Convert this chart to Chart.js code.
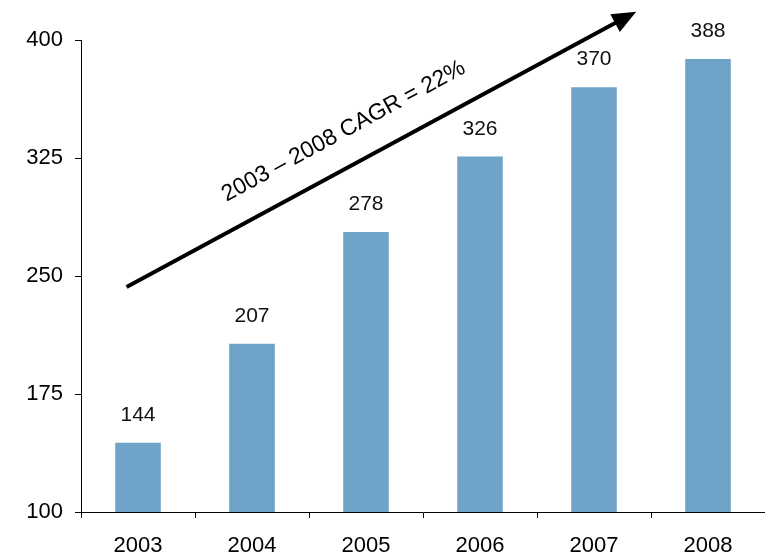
<!DOCTYPE html>
<html>
<head>
<meta charset="utf-8">
<script src="https://cdn.jsdelivr.net/npm/chart.js@4"></script>
<style>
  html, body { margin: 0; padding: 0; background: #fff; }
  #wrap { width: 765px; height: 557px; }
</style>
</head>
<body>
<div id="wrap"><canvas id="grafica"></canvas></div>
<script>
var years = ["2003", "2004", "2005", "2006", "2007", "2008"];
var values = [144, 207, 278, 326, 370, 388];
var yTicks = [100, 175, 250, 325, 400];
var cagrText = "2003 \u2013 2008 CAGR = 22%";

// etiquetas encima de cada barra + flecha de CAGR
var extras = {
  id: "extras",
  afterDatasetsDraw: function (chart) {
    var ctx = chart.ctx;
    var meta = chart.getDatasetMeta(0);
    ctx.save();
    ctx.fillStyle = "#111";
    ctx.font = "21px 'Liberation Sans', Arial, sans-serif";
    ctx.textAlign = "center";
    ctx.textBaseline = "bottom";
    meta.data.forEach(function (bar, i) {
      ctx.fillText(values[i], bar.x, bar.y - 17);
    });

    var xs = chart.scales.x, ys = chart.scales.y;
    var paso = xs.getPixelForValue(1) - xs.getPixelForValue(0);
    var x1 = xs.getPixelForValue(0) - 0.1 * paso;
    var y1 = ys.getPixelForValue(243);
    var x2 = xs.getPixelForValue(0) + 4.37 * paso;
    var y2 = ys.getPixelForValue(418);
    var ang = Math.atan2(y2 - y1, x2 - x1);
    var head = 24;

    ctx.strokeStyle = "#000";
    ctx.lineWidth = 4;
    ctx.beginPath();
    ctx.moveTo(x1, y1);
    ctx.lineTo(x2 - Math.cos(ang) * head * 0.8, y2 - Math.sin(ang) * head * 0.8);
    ctx.stroke();

    ctx.fillStyle = "#000";
    ctx.beginPath();
    ctx.moveTo(x2, y2);
    ctx.lineTo(x2 - head * Math.cos(ang) + 10 * Math.sin(ang), y2 - head * Math.sin(ang) - 10 * Math.cos(ang));
    ctx.lineTo(x2 - head * Math.cos(ang) - 10 * Math.sin(ang), y2 - head * Math.sin(ang) + 10 * Math.cos(ang));
    ctx.closePath();
    ctx.fill();

    // texto girado paralelo a la flecha
    var tx = x1 + (x2 - x1) * 0.42 + 3;
    var ty = y1 + (y2 - y1) * 0.42 - 40;
    ctx.translate(tx, ty);
    ctx.rotate(ang);
    ctx.fillStyle = "#000";
    ctx.font = "23px 'Liberation Sans', Arial, sans-serif";
    ctx.textAlign = "center";
    ctx.textBaseline = "middle";
    ctx.fillText(cagrText, 0, 0);
    ctx.restore();
  }
};

new Chart("grafica", {
  type: "bar",
  data: {
    labels: years,
    datasets: [{
      data: values,
      backgroundColor: "#6FA3C7",
      categoryPercentage: 1,
      barPercentage: 0.4
    }]
  },
  options: {
    responsive: true,
    maintainAspectRatio: false,
    animation: false,
    layout: { padding: { top: 40, right: 0, left: 0, bottom: 0 } },
    plugins: {
      legend: { display: false },
      tooltip: { enabled: false }
    },
    scales: {
      x: {
        grid: { drawOnChartArea: false, offset: true, color: "#000", tickLength: 6, tickColor: "#000" },
        border: { color: "#000", width: 1 },
        ticks: {
          color: "#000",
          font: { size: 22, family: "'Liberation Sans', Arial, sans-serif" },
          padding: 15
        },
        afterFit: function (s) { s.height = 45; }
      },
      y: {
        min: 100,
        max: 400,
        afterBuildTicks: function (s) {
          s.ticks = yTicks.map(function (v) { return { value: v }; });
        },
        grid: { drawOnChartArea: false, color: "#000", tickLength: 6, tickColor: "#000" },
        border: { color: "#000", width: 1 },
        ticks: {
          color: "#000",
          font: { size: 22, family: "'Liberation Sans', Arial, sans-serif" },
          padding: 12
        },
        afterFit: function (s) { s.width = 81; }
      }
    }
  },
  plugins: [extras]
});
</script>
</body>
</html>
